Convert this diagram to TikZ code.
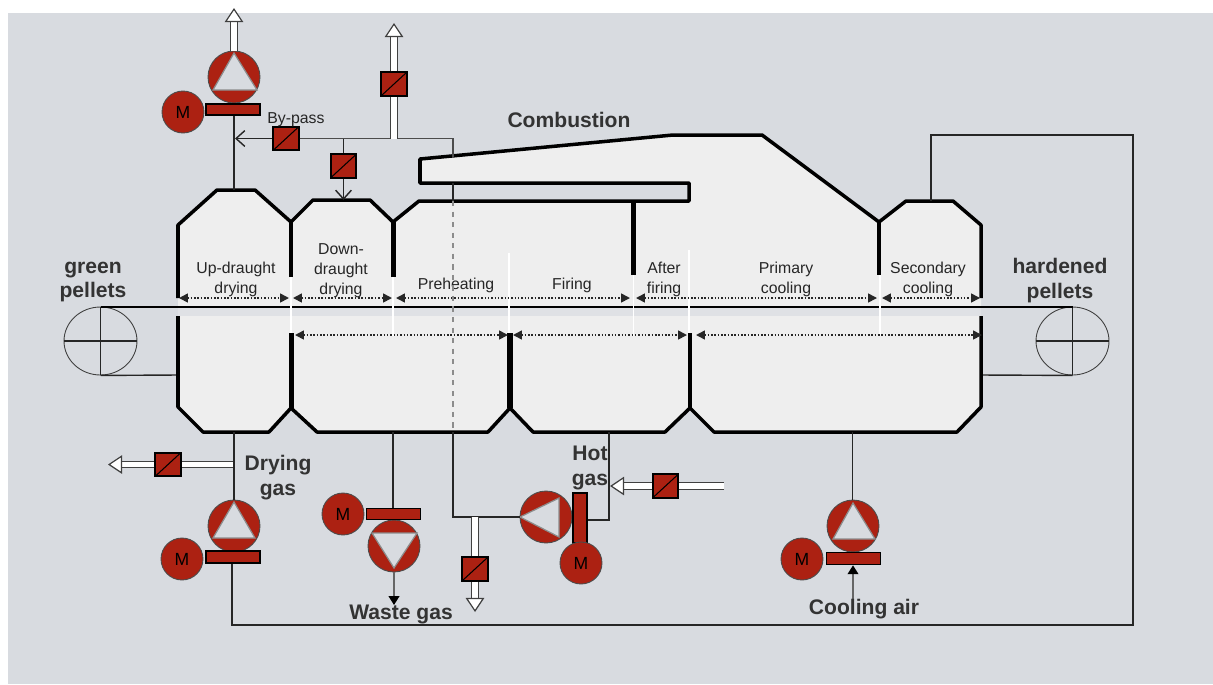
\documentclass[tikz,border=0pt]{standalone}
\usepackage{fontspec}
\setmainfont{Liberation Sans}
\usepackage{xcolor}
\usetikzlibrary{arrows.meta, shapes.geometric}
\definecolor{panelgray}{HTML}{D8DBE0}
\definecolor{hoodgray}{HTML}{EEEEEE}
\definecolor{bandgray}{HTML}{DFE1E5}
\definecolor{firered}{HTML}{AC2112}
\tikzset{
  motor/.style={circle, minimum size=0.84cm, inner sep=0pt, draw=black!70, line width=0.5pt, fill=firered, font=\fontsize{10}{12}\selectfont},
  fan/.style={circle, minimum size=1.04cm, inner sep=0pt, draw=black!70, line width=0.5pt, fill=firered},
  vane/.style={draw=black!45, line width=0.7pt, fill=panelgray, line join=miter},
  plate/.style={rectangle, inner sep=0pt, draw=black, line width=0.9pt, fill=firered},
  valve/.style={rectangle, minimum width=0.51cm, minimum height=0.47cm, inner sep=0pt, draw=black, line width=0.9pt, fill=firered,
    path picture={\draw[line width=0.6pt] (path picture bounding box.south west) -- (path picture bounding box.north east);}},
  shell/.style={draw=black, line width=2pt, line join=round},
  wall/.style={black, line width=2.6pt},
  gap/.style={white, line width=0.7pt},
  zone/.style={{Triangle[length=5pt,width=5pt]}-{Triangle[length=5pt,width=5pt]}, densely dotted, line width=0.9pt, black!85},
  pipe/.style={draw=black!75, line width=0.7pt, double=white, double distance=2.9pt},
  pipearrow/.style={pipe, -{Triangle[length=8pt,width=10.5pt,fill=white,line width=0.7pt]}},
  line/.style={draw=black!85, line width=0.8pt},
  openarrow/.style={line, -{Straight Barb[length=5pt,width=9pt,line width=0.8pt]}},
  feedarrow/.style={draw=black!60, line width=1pt, -{Triangle[length=5pt,width=6pt,black]}},
  pulley/.style={ellipse, minimum width=1.46cm, minimum height=1.36cm, inner sep=0pt, draw=black!75, line width=0.5pt},
  zonelabel/.style={align=center, font=\fontsize{9}{11.3}\selectfont, text=black!85},
  biglabel/.style={align=center, font=\fontsize{12}{14.2}\selectfont\bfseries, text=black!80}
}
\begin{document}
\begin{tikzpicture}[x=0.02cm,y=-0.02cm]
\useasboundingbox (0,0) rectangle (1213,684);
\fill[panelgray] (8,13) rectangle (1213,684);

% kiln body
\fill[hoodgray] (178,308) -- (178,225) -- (217,190) -- (255,190) -- (291,222) -- (313,200) -- (370,200) -- (393,222) -- (419,201) -- (689,201) -- (689,183) -- (420,183) -- (420,159) -- (673,135) -- (762,135) -- (879,222) -- (906,201) -- (953,201) -- (981,225) -- (981,308) -- cycle;
\fill[bandgray] (178,308) rectangle (981,316);
\fill[hoodgray] (178,316) -- (178,407) -- (203,432) -- (269,432) -- (291,408) -- (317,432) -- (488,432) -- (510,408) -- (533,432) -- (665,432) -- (690,408) -- (714,432) -- (957,432) -- (981,407) -- (981,316) -- cycle;

% named points on the kiln
\coordinate (upHood) at (234,190);
\coordinate (downHood) at (343.5,200);
\coordinate (secHood) at (931,201);
\coordinate (slotTop) at (453,183);
\coordinate (slotBot) at (453,201);
\coordinate (burnerTop) at (453,157);
\coordinate (dryBot) at (234,432);
\coordinate (wasteBot) at (393,432);
\coordinate (dashBot) at (453,432);
\coordinate (hotBot) at (609,432);
\coordinate (coolBot) at (852.5,432);
\coordinate (lowWallL) at (981,375);
\coordinate (lowWallG) at (178,375);

% belt and pulleys
\node[pulley] (pulleyL) at (100.5,341) {};
\node[pulley] (pulleyR) at (1072.5,341) {};
\draw[line] (pulleyL.west) -- (pulleyL.east);
\draw[line] (pulleyL.north) -- (pulleyL.south);
\draw[line] (pulleyR.west) -- (pulleyR.east);
\draw[line] (pulleyR.north) -- (pulleyR.south);
\draw[draw=black, line width=1.2pt] (pulleyL.north) -- (pulleyR.north);
\draw[line] (pulleyL.south) -- (lowWallG);
\draw[line] (pulleyR.south) -- (lowWallL);

% shell outline
\draw[shell] (178,298) -- (178,225) -- (217,190) -- (255,190) -- (291,222) -- (313,200) -- (370,200) -- (393,222) -- (419,201) -- (689,201) -- (689,183) -- (420,183) -- (420,159) -- (673,135) -- (762,135) -- (879,222) -- (906,201) -- (953,201) -- (981,225) -- (981,298);
\draw[shell] (178,316) -- (178,407) -- (203,432) -- (269,432) -- (291,408) -- (317,432) -- (488,432) -- (510,408) -- (533,432) -- (665,432) -- (690,408) -- (714,432) -- (957,432) -- (981,407) -- (981,316);

% zone walls and white dividers
\draw[wall, line width=2.2pt] (291,222) -- (291,277);
\draw[wall, line width=3pt] (393.5,222) -- (393.5,277);
\draw[wall, line width=2.4pt] (633.5,201) -- (633.5,275);
\draw[wall, line width=2.8pt] (879,222) -- (879,275);
\draw[wall, line width=3.1pt] (291.5,333) -- (291.5,408);
\draw[wall, line width=3.1pt] (510,333) -- (510,408);
\draw[wall] (690,333) -- (690,408);
\draw[gap] (291,277) -- (291,333);
\draw[gap] (393,277) -- (393,336);
\draw[gap] (509,253) -- (509,333);
\draw[gap] (633.5,275) -- (633.5,336);
\draw[gap] (689,250) -- (689,333);
\draw[gap] (880,275) -- (880,336);

% zone extents
\draw[zone] (179,298) -- (289,298);
\draw[zone] (293,298) -- (392,298);
\draw[zone] (396,298) -- (630,298);
\draw[zone] (636,298) -- (877,298);
\draw[zone] (882,298) -- (980,298);
\draw[zone] (295,335) -- (508,335);
\draw[zone] (513,335) -- (687,335);
\draw[zone] (696,335) -- (982,335);

% zone names
\node[zonelabel] (lblUp) at (236,279) {Up-draught\\drying};
\node[zonelabel] (lblDown) at (341,270.5) {Down-\\draught\\drying};
\node[zonelabel] (lblPre) at (456,285) {Preheating};
\node[zonelabel] (lblFire) at (572,285) {Firing};
\node[zonelabel] (lblAfter) at (664,279) {After\\firing};
\node[zonelabel] (lblPrim) at (786,279) {Primary\\cooling};
\node[zonelabel] (lblSec) at (928,279) {Secondary\\cooling};
\node[biglabel] (lblGreen) at (93,282) {green\\pellets};
\node[biglabel] (lblHard) at (1060,280.5) {hardened\\pellets};
\node[biglabel] (lblComb) at (569,120) {Combustion};

% top fan
\node[fan] (fanTop) at (234,77) {};
\draw[vane] (234,53) -- (213,90) -- (257,90) -- cycle;
\node[plate, minimum width=1.08cm, minimum height=0.22cm] (plateTop) at (233,109.5) {};
\node[motor] (motorTop) at (183,112) {M};
\coordinate (tipTop) at (234,8);
\draw[pipearrow] (fanTop.north) -- (tipTop);
\draw[line] (plateTop.south -| upHood) -- (upHood);

% by-pass pipes
\node[valve] (valveBy) at (286,138.5) {};
\node[valve] (valveUp) at (394,84) {};
\node[valve] (valveDown) at (343.5,166) {};
\coordinate (byEnd) at (235,138.5);
\coordinate (byCorner) at (453,138.5);
\coordinate (byTee) at (343.5,138.5);
\coordinate (stackTee) at (394,138.5);
\coordinate (tipUp) at (394,23);
\draw[openarrow] (valveBy) -- (byEnd);
\draw[line, line width=1pt, black!70] (valveBy) -- (byCorner) -- (burnerTop);
\draw[line] (byTee) -- (valveDown);
\draw[openarrow] (valveDown) -- (downHood);
\draw[pipe] (stackTee) -- (valveUp);
\draw[pipearrow] (valveUp) -- (tipUp);
\node[zonelabel] (lblBy) at (296,120) {By-pass};
\draw[line] (slotTop) -- (slotBot);
\draw[draw=black!45, line width=0.6pt, dashed] (slotBot) -- (dashBot);

% drying gas
\node[fan] (fanDry) at (234,526) {};
\draw[vane] (234,502) -- (213,538) -- (255,538) -- cycle;
\node[plate, minimum width=1.08cm, minimum height=0.23cm] (plateDry) at (233,557) {};
\node[motor] (motorDry) at (182,559) {M};
\node[valve] (valveDry) at (168,464.5) {};
\coordinate (dryTee) at (233,464.5);
\coordinate (tipDry) at (108,464.5);
\draw[line] (dryBot) -- (fanDry.north);
\draw[pipe] (dryTee) -- (valveDry);
\draw[pipearrow] (valveDry) -- (tipDry);
\node[biglabel] (lblDry) at (278,478) {Drying\\gas};

% waste gas
\node[fan] (fanWaste) at (394,546) {};
\draw[vane] (394,568) -- (372,533) -- (417,533) -- cycle;
\node[plate, minimum width=1.08cm, minimum height=0.22cm] (plateWaste) at (393.5,514) {};
\node[motor] (motorWaste) at (343,514) {M};
\coordinate (tipWaste) at (394,605);
\draw[line] (wasteBot) -- (plateWaste.north -| wasteBot);
\draw[feedarrow] (fanWaste.south) -- (tipWaste);
\node[biglabel] (lblWaste) at (401,614.5) {Waste gas};

% recirculation fan
\node[fan] (fanHot) at (546,517) {};
\draw[vane] (520,517) -- (559,498) -- (559,537) -- cycle;
\node[plate, minimum width=0.27cm, minimum height=1cm] (plateHot) at (580,518) {};
\node[motor] (motorHot) at (581,563) {M};
\node[valve] (valveLow) at (475,569) {};
\coordinate (fanCorner) at (453,517);
\coordinate (lowTee) at (475,517);
\coordinate (tipLow) at (475,612);
\coordinate (hotCorner) at (609,520);
\draw[line] (dashBot) -- (fanCorner) -- (fanHot.west);
\draw[pipe] (lowTee) -- (valveLow);
\draw[pipearrow] (valveLow) -- (tipLow);
\draw[line] (hotBot) -- (hotCorner) -- (plateHot.east |- hotCorner);

% hot gas feed
\node[valve] (valveHot) at (665.5,486) {};
\coordinate (tailHot) at (724,486);
\coordinate (tipHot) at (610,486);
\draw[pipe] (tailHot) -- (valveHot);
\draw[pipearrow] (valveHot) -- (tipHot);
\node[biglabel] (lblHot) at (590,468) {Hot\\gas};

% cooling air
\node[fan] (fanCool) at (853,526) {};
\draw[vane] (853,503) -- (833,539) -- (875,539) -- cycle;
\node[plate, minimum width=1.08cm, minimum height=0.24cm] (plateCool) at (853.5,558.5) {};
\node[motor] (motorCool) at (802,559) {M};
\coordinate (airStart) at (853,602);
\draw[line] (coolBot) -- (coolBot |- fanCool.north);
\draw[feedarrow] (airStart) -- (plateCool.south -| airStart);
\node[biglabel] (lblCool) at (864,609.5) {Cooling air};

% return duct
\coordinate (ductA) at (232,625);
\coordinate (ductB) at (1133,625);
\coordinate (ductC) at (1133,135);
\coordinate (ductD) at (931,135);
\draw[draw=black!85, line width=0.8pt] (plateDry.south -| ductA) -- (ductA) -- (ductB) -- (ductC) -- (ductD) -- (secHood);
\end{tikzpicture}
\end{document}
